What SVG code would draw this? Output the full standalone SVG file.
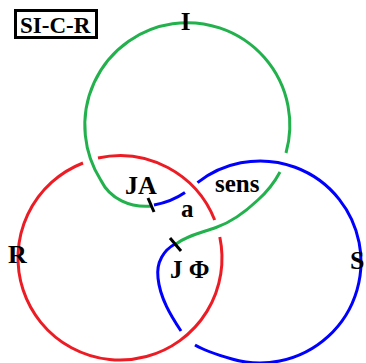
<svg xmlns="http://www.w3.org/2000/svg" width="366" height="363" viewBox="0 0 366 363">
<style>
.c{fill:none;stroke-width:3;stroke-linecap:butt}
.r{stroke:#ed1c24}
.g{stroke:#22b14c}
.b{stroke:#0000ff}
.bar{stroke:#000;stroke-width:3}
.t{font-family:"Liberation Serif","Times New Roman",serif;font-weight:bold;fill:#000}
</style>
<rect width="366" height="363" fill="#fff"/>
<g id="connectors">
<g id="ring-R">
<path class="c r" d="M98,158 A102,102 0 0 1 214.7,220"/>
<path class="c r" d="M219.8,237 A102,102 0 1 1 83,163"/>
</g>
<g id="ring-I">
<path class="c g" d="M152,206 C130,208 110,199 100.7,180 A102.5,102.5 0 1 1 286,153"/>
<path class="c g" d="M280,172 A102.5,102.5 0 0 1 257.9,200 C247,210.3 232,222 216,227.5 C200,233 186,236 176,244"/>
</g>
<g id="ring-S">
<path class="c b" d="M154,205 C165,203 177,198 185,192.5"/>
<path class="c b" d="M197.5,182.6 A101,101 0 1 1 232,359 C220.5,355.7 205,351 195,345"/>
<path class="c b" d="M181,331 C171,316 160,298 158,278 C156,262 164,250 175,244"/>
</g>
<line class="bar" x1="148" y1="198" x2="154" y2="212"/>
<line class="bar" x1="170" y1="238" x2="181" y2="251"/>
</g>
<g id="title">
<rect x="15.5" y="10.5" width="81" height="27" fill="#fff" stroke="#000" stroke-width="3"/>
<text class="t" x="20" y="33" font-size="23">SI-C-R</text>
</g>
<g id="label-I"><text class="t" x="185.5" y="30" font-size="25" text-anchor="middle">I</text></g>
<g id="label-R"><text class="t" x="8" y="263" font-size="26">R</text></g>
<g id="label-S"><text class="t" x="350" y="269" font-size="26">S</text></g>
<g id="label-JA"><text class="t" x="125" y="194" font-size="26">JA</text></g>
<g id="label-a"><text class="t" x="181" y="217" font-size="25">a</text></g>
<g id="label-sens"><text class="t" x="215" y="192" font-size="25">sens</text></g>
<g id="label-JPhi"><text class="t" x="170" y="278" font-size="25">J Φ</text></g>
</svg>
